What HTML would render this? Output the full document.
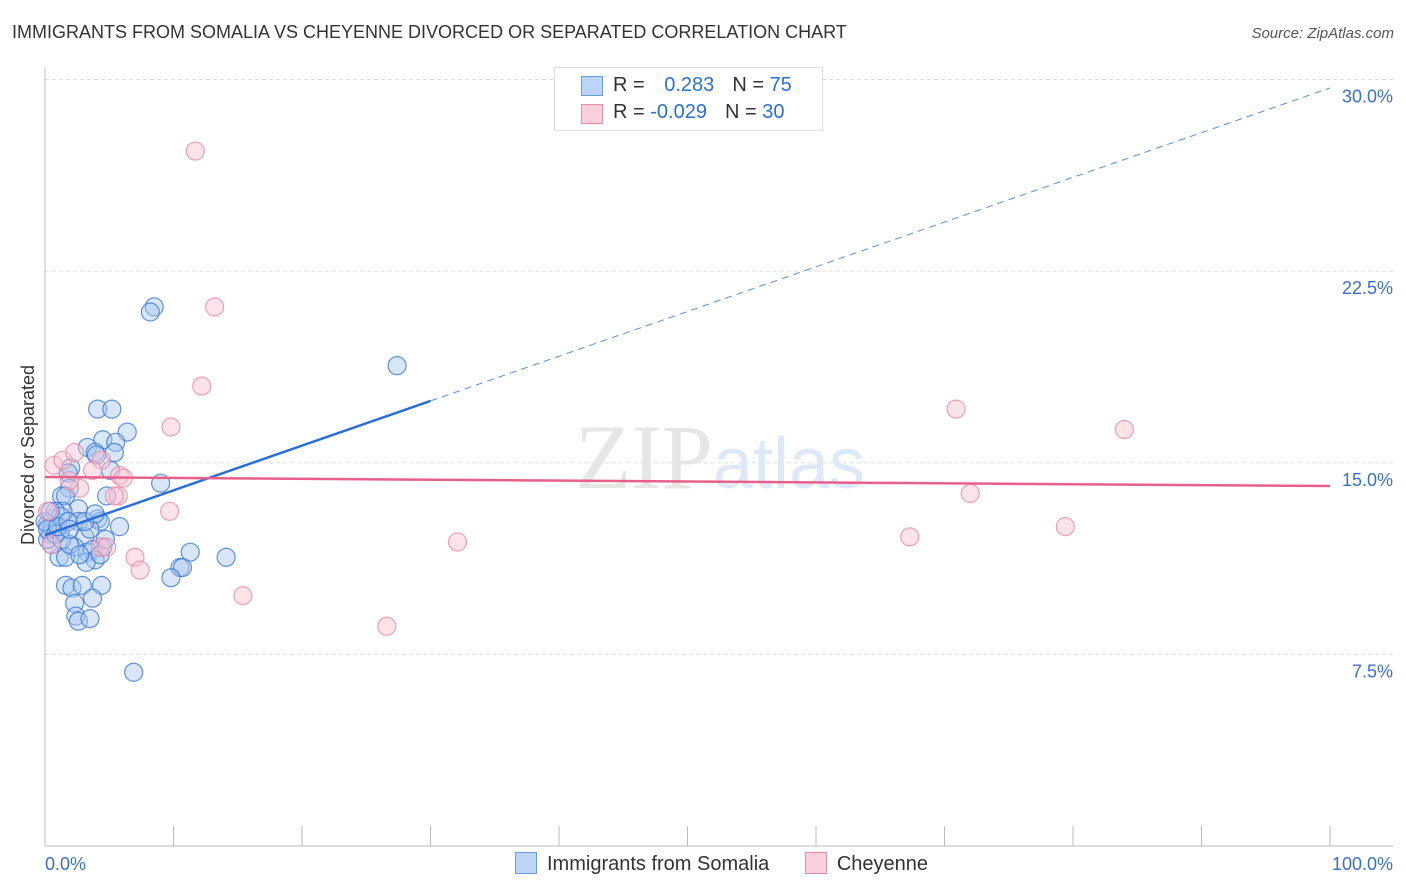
<!DOCTYPE html>
<html><head><meta charset="utf-8">
<style>
body{margin:0;background:#fff;font-family:"Liberation Sans",sans-serif;}
#wrap{position:relative;width:1406px;height:892px;overflow:hidden}
.t{position:absolute;white-space:nowrap}
</style></head><body>
<div id="wrap">
<div class="t" style="left:12px;top:22px;font-size:18px;color:#333">IMMIGRANTS FROM SOMALIA VS CHEYENNE DIVORCED OR SEPARATED CORRELATION CHART</div>
<div class="t" style="right:12px;top:25px;font-size:15px;color:#555;font-style:italic">Source: ZipAtlas.com</div>
<svg id="svg" width="1406" height="892" style="position:absolute;left:0;top:0"></svg>
</div>
<script>
const xTickLabels=["0.0%","100.0%"];
const yTicks=[7.5,15,22.5,30];
const yTickLabels=["7.5%","15.0%","22.5%","30.0%"];
const somaliaX=[8.5,8.2,27.4,4.1,5.2,6.4,4.5,5.5,3.3,3.9,4.0,2.0,1.8,9.0,1.9,4.8,1.3,1.6,2.6,1.4,4.1,4.3,2.6,0.6,0.9,0.2,0.5,5.8,1.2,0.4,3.1,3.5,4.5,2.3,3.3,3.7,1.1,3.9,1.6,3.2,11.3,10.5,10.7,9.8,14.1,1.6,2.1,4.4,2.9,2.3,3.7,2.4,2.6,3.5,6.9,0.5,0.2,0.8,1.2,0.0,0.2,0.8,1.3,1.9,3.1,3.9,5.1,5.4,1.0,1.8,2.7,4.3,4.7,1.9,0.4];
const somaliaY=[21.1,20.9,18.8,17.1,17.1,16.2,15.9,15.8,15.6,15.4,15.3,14.8,14.6,14.2,14.0,13.7,13.7,13.7,13.2,13.1,12.8,12.7,12.7,12.8,12.5,12.6,12.4,12.5,12.3,12.2,12.1,12.4,11.7,11.7,11.5,11.6,11.3,11.2,11.3,11.1,11.5,10.9,10.9,10.5,11.3,10.2,10.1,10.2,10.2,9.5,9.7,9.0,8.8,8.9,6.8,11.8,12.0,13.1,12.9,12.7,12.4,12.2,12.0,11.8,12.7,13.0,14.7,15.4,12.5,12.7,11.4,11.4,12.0,12.4,13.1];
const cheyenneX=[11.7,13.2,12.2,9.8,70.9,84.0,0.7,1.4,2.3,4.4,5.8,6.1,3.7,5.7,2.7,1.9,5.4,9.7,72.0,79.4,67.3,32.1,7.0,7.4,15.4,26.6,4.3,4.8,0.5,0.2];
const cheyenneY=[27.2,21.1,18.0,16.4,17.1,16.3,14.9,15.1,15.4,15.1,14.5,14.4,14.7,13.7,14.0,14.3,13.7,13.1,13.8,12.5,12.1,11.9,11.3,10.8,9.8,8.6,11.7,11.7,11.8,13.1];
const somaliaTrend=[12.17,29.67];
const cheyenneTrend=[14.44,14.09];
const X0=45,X1=1330,Y0=846,YPX=25.55;
const sx=v=>X0+(X1-X0)*v/100, sy=v=>Y0-v*YPX;
const svg=document.getElementById('svg');const NS='http://www.w3.org/2000/svg';
function mk(t,a,p){const e=document.createElementNS(NS,t);for(const k in a)e.setAttribute(k,a[k]);(p||svg).appendChild(e);return e;}
// grid
yTicks.forEach((v,i)=>{
 const g=mk('line',{x1:X0,x2:1393,y1:sy(v),y2:sy(v),stroke:'#ddd','stroke-dasharray':'4,3'});
 
 
 const t=mk('text',{x:1393,y:sy(v)+23,'text-anchor':'end','font-size':18,fill:'#3a6fd0','font-family':'Liberation Sans'});
 t.textContent=yTickLabels[i];
 
 
});
const ax=mk('line',{x1:X0,x2:X0,y1:68,y2:846,stroke:'#bbb'});


const bx=mk('line',{x1:X0,x2:1393,y1:846,y2:846,stroke:'#bbb'});


for(let i=1;i<=10;i++){const tk=mk('line',{x1:sx(i*10),x2:sx(i*10),y1:826,y2:846,stroke:'#bbb'});
 
 }
[[0,'start',X0],[1,'end',1393]].forEach(([i,a,x])=>{const t=mk('text',{x:x,y:870,'text-anchor':a,'font-size':18,fill:'#3a6fd0','font-family':'Liberation Sans'});t.textContent=xTickLabels[i];
 
 });
const yl=mk('text',{x:0,y:0,transform:'translate(34,455) rotate(-90)','text-anchor':'middle','font-size':18,fill:'#333','font-family':'Liberation Sans'});yl.textContent='Divorced or Separated';


// watermark
const wm=mk('text',{x:720,y:488,'text-anchor':'middle','font-size':92,fill:'#e6e6e6','font-family':'Liberation Serif'});wm.innerHTML='ZIP<tspan fill="#dfe8f7" font-family="Liberation Sans" font-size="72">atlas</tspan>';


// points
function pts(xs,ys,fill,stroke,name){xs.forEach((x,i)=>{const c=mk('circle',{cx:sx(x),cy:sy(ys[i]),r:9,fill:fill,'fill-opacity':0.45,stroke:stroke,'stroke-width':1.2,'stroke-opacity':0.8});
 
 });}
pts(somaliaX,somaliaY,'#a9c8f0','#3a78d8','somalia-point');
pts(cheyenneX,cheyenneY,'#f8c0d0','#e88aa8','cheyenne-point');
// trends
const ty=(tr,x)=>tr[0]+(tr[1]-tr[0])*x/100;
const l1=mk('line',{x1:sx(0),y1:sy(ty(somaliaTrend,0)),x2:sx(30),y2:sy(ty(somaliaTrend,30)),stroke:'#2a6fd6','stroke-width':2.5});


const l2=mk('line',{x1:sx(30),y1:sy(ty(somaliaTrend,30)),x2:sx(100),y2:sy(ty(somaliaTrend,100)),stroke:'#5a8ee0','stroke-width':1,'stroke-dasharray':'7,5'});


const l3=mk('line',{x1:sx(0),y1:sy(ty(cheyenneTrend,0)),x2:sx(100),y2:sy(ty(cheyenneTrend,100)),stroke:'#e8608a','stroke-width':2.5});


</script>
<div class="t" style="left:554px;top:67px;width:267px;height:62px;border:1px solid #ddd;background:#fff;font-size:20px;color:#333">
 <div style="position:absolute;left:26px;top:8px;width:20px;height:18px;background:#bcd4f5;border:1px solid #6a9ae0"></div>
 <div style="position:absolute;left:58px;top:6px">R = <span style="color:#2a6fd6;margin-left:14px">0.283</span><span style="margin-left:18px">N = </span><span style="color:#2a6fd6">75</span></div>
 <div style="position:absolute;left:26px;top:36px;width:20px;height:18px;background:#fbd0dc;border:1px solid #e88aa8"></div>
 <div style="position:absolute;left:58px;top:33px">R = <span style="color:#2a6fd6">-0.029</span><span style="margin-left:18px">N = </span><span style="color:#2a6fd6">30</span></div>
</div>
<div class="t" style="left:515px;top:852px;font-size:20px;color:#333">
 <span style="display:inline-block;width:20px;height:20px;background:#bcd4f5;border:1px solid #6a9ae0;vertical-align:-4px"></span><span style="margin-left:10px">Immigrants from Somalia</span>
 <span style="display:inline-block;width:20px;height:20px;background:#fbd0dc;border:1px solid #e88aa8;vertical-align:-4px;margin-left:30px"></span><span style="margin-left:10px">Cheyenne</span>
</div>
</body></html>
